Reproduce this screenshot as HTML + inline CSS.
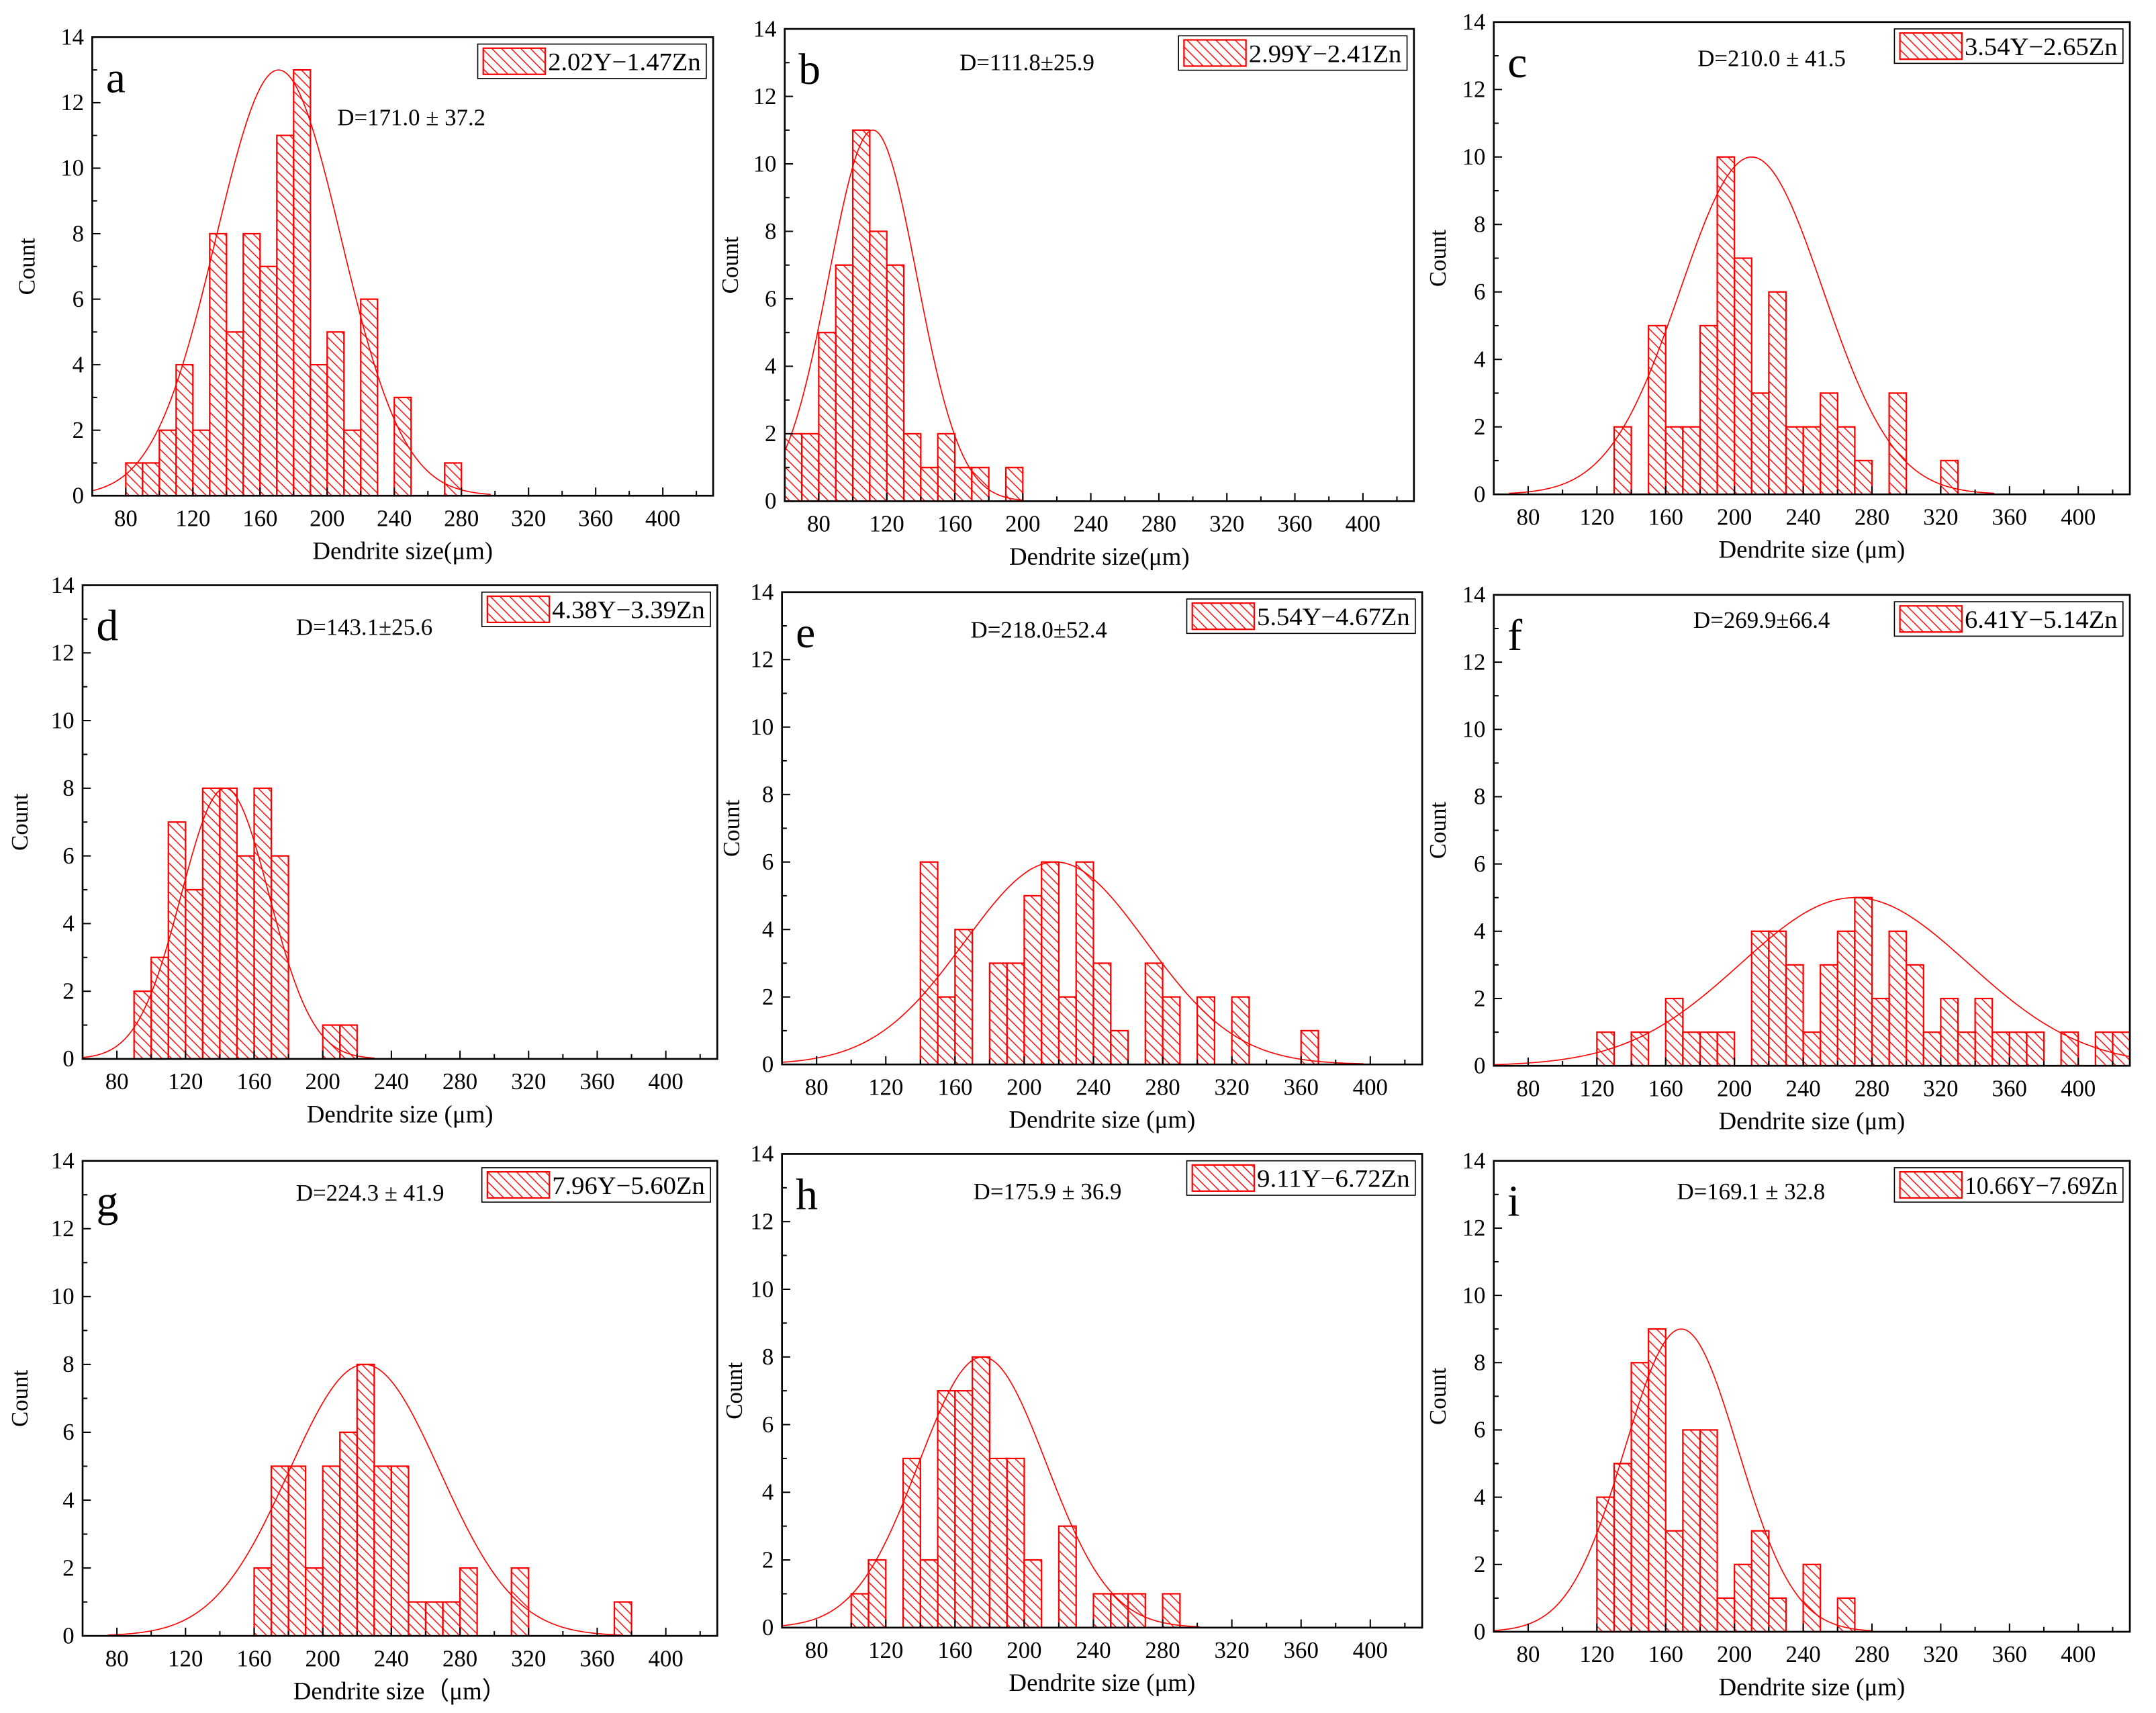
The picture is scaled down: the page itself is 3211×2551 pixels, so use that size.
<!DOCTYPE html>
<html><head><meta charset="utf-8"><style>
html,body{margin:0;padding:0;background:#fff;}
svg{display:block;font-family:"Liberation Serif",serif;}
</style></head><body>
<svg id="fig" width="3211" height="2551" viewBox="0 0 1566 1244" preserveAspectRatio="none" xmlns="http://www.w3.org/2000/svg">
<defs>
<pattern id="hatch" patternUnits="userSpaceOnUse" width="7" height="7">
<path d="M0,0 L7,7 M-1,6 L1,8 M6,-1 L8,1" stroke="#ff0000" stroke-width="0.7" fill="none"/>
</pattern>
</defs>
</svg>
<script>
// ---- data (bin width 10 µm) ----
const panelIds   = ["a","b","c","d","e","f","g","h","i"];
const alloyNames = ["2.02Y\u22121.47Zn","2.99Y\u22122.41Zn","3.54Y\u22122.65Zn","4.38Y\u22123.39Zn","5.54Y\u22124.67Zn","6.41Y\u22125.14Zn","7.96Y\u22125.60Zn","9.11Y\u22126.72Zn","10.66Y\u22127.69Zn"];
const meanLabels = ["D=171.0 \u00b1 37.2","D=111.8\u00b125.9","D=210.0 \u00b1 41.5","D=143.1\u00b125.6","D=218.0\u00b152.4","D=269.9\u00b166.4","D=224.3 \u00b1 41.9","D=175.9 \u00b1 36.9","D=169.1 \u00b1 32.8"];
const binStarts  = [80,60,130,90,140,120,160,100,120];
const countsA = [1,1,2,4,2,8,5,8,7,11,13,4,5,2,6,0,3,0,0,1];
const countsB = [2,2,5,7,11,8,7,2,1,2,1,1,0,1];
const countsC = [2,0,5,2,2,5,10,7,3,6,2,2,3,2,1,0,3,0,0,1];
const countsD = [2,3,7,5,8,8,6,8,6,0,0,1,1];
const countsE = [6,2,4,0,3,3,5,6,2,6,3,1,0,3,2,0,2,0,2,0,0,0,1];
const countsF = [1,0,1,0,2,1,1,1,0,4,4,3,1,3,4,5,2,4,3,1,2,1,2,1,1,1,0,1,0,1,1];
const countsG = [2,5,5,2,5,6,8,5,5,1,1,1,2,0,0,2,0,0,0,0,0,1];
const countsH = [1,2,0,5,2,7,7,8,5,5,2,0,3,0,1,1,1,0,1];
const countsI = [4,5,8,9,3,6,6,1,2,3,1,0,2,0,1];
const fitMeans = [171.0,111.8,210.0,143.1,218.0,269.9,224.3,175.9,169.1];
const fitSDs   = [37.2,25.9,41.5,25.6,52.4,66.4,44.0,36.9,32.8];
const fitPeaks = [13,11,10,8,6,5,8,8,9];
const xTicks = [80,120,160,200,240,280,320,360,400];
const yTicks = [0,2,4,6,8,10,12,14];
const xTitles = ["Dendrite size(\u03bcm)","Dendrite size(\u03bcm)","Dendrite size (\u03bcm)","Dendrite size (\u03bcm)","Dendrite size (\u03bcm)","Dendrite size (\u03bcm)","Dendrite size\uff08\u03bcm\uff09","Dendrite size (\u03bcm)","Dendrite size (\u03bcm)"];
const allCounts = [countsA,countsB,countsC,countsD,countsE,countsF,countsG,countsH,countsI];

// ---- layout ----
const boxes = [[67,518,27,360],[570,1027,21,364],[1085,1547,16,359],[60,521,425,769],[568,1033,430,773],[1085,1547,432,774],[60,521,843,1188],[568,1033,838,1182],[1085,1547,843,1185]];
const dPos = [[245,91],[697,51],[1233,48],[215,461],[705,463],[1230,456],[215,872],[707,871],[1218,871]];
const countOff = [42,34,35,40,31,35,40,29,35];
const XMIN=60, XMAX=430, YMAX=14;
const NS="http://www.w3.org/2000/svg";
const svg=document.getElementById("fig");
function mk(tag,attrs,parent){const e=document.createElementNS(NS,tag);for(const k in attrs)e.setAttribute(k,attrs[k]);(parent||svg).appendChild(e);return e;}

panelIds.forEach((id,p)=>{
  const [L,R,T,B]=boxes[p];
  const sx=v=>L+(v-XMIN)/(XMAX-XMIN)*(R-L);
  const sy=v=>B-v/YMAX*(B-T);
  const g=mk("g",{});
  
  
  const counts=allCounts[p];
  counts.forEach((c,k)=>{
    if(c<=0)return;
    const x0=binStarts[p]+k*10;
    const r=mk("rect",{x:sx(x0),y:sy(c),width:sx(x0+10)-sx(x0),height:sy(0)-sy(c),fill:"url(#hatch)",stroke:"#ff0000","stroke-width":1.1},g);
    
    
  });
  const m=fitMeans[p],s=fitSDs[p],pk=fitPeaks[p];
  const a0=Math.max(XMIN,m-3.4*s),a1=Math.min(XMAX,m+3.4*s);
  let d="";
  for(let i=0;i<=200;i++){const x=a0+(a1-a0)*i/200;const y=pk*Math.exp(-((x-m)**2)/(2*s*s));d+=(i?"L":"M")+sx(x).toFixed(2)+","+sy(y).toFixed(2);}
  const cv=mk("path",{d:d,fill:"none",stroke:"#ff0000","stroke-width":0.8},g);
  
  
  const fr=mk("rect",{x:L,y:T,width:R-L,height:B-T,fill:"none",stroke:"#000","stroke-width":1.3},g);
  
  
  for(let v=80;v<=420;v+=20){
    const major=(v%40===0);
    mk("line",{x1:sx(v),x2:sx(v),y1:B,y2:B-(major?6:3.5),stroke:"#000","stroke-width":1},g);
  }
  xTicks.forEach(v=>{
    const t=mk("text",{x:sx(v),y:B+22,"font-size":17,"text-anchor":"middle"},g);
    t.textContent=v;
    
    
  });
  for(let v=0;v<=14;v++){
    const major=(v%2===0);
    mk("line",{x1:L,x2:L+(major?6:3.5),y1:sy(v),y2:sy(v),stroke:"#000","stroke-width":1},g);
  }
  yTicks.forEach(v=>{
    const t=mk("text",{x:L-6,y:sy(v)+5.5,"font-size":17,"text-anchor":"end"},g);
    t.textContent=v;
    
    
  });
  const yt=mk("text",{x:0,y:0,"font-size":17,"text-anchor":"middle",transform:`translate(${L-countOff[p]},${(T+B)/2}) rotate(-90)`},g);
  yt.textContent="Count";
  
  
  const xt=mk("text",{x:(L+R)/2,y:B+46,"font-size":18,"text-anchor":"middle"},g);
  xt.textContent=xTitles[p];
  
  
  const lt=mk("text",{x:L+10,y:T+40,"font-size":32},g);
  lt.textContent=id;
  
  
  const dl=mk("text",{x:dPos[p][0],y:dPos[p][1],"font-size":17},g);
  dl.textContent=meanLabels[p];
  
  
  const lw=alloyNames[p].length>13?175:166, lx=R-lw-5, ly=T+5;
  const lg=mk("g",{},g);
  
  
  mk("rect",{x:lx,y:ly,width:lw,height:25,fill:"#fff",stroke:"#000","stroke-width":0.8},lg);
  mk("rect",{x:lx+4,y:ly+3,width:45,height:19,fill:"url(#hatch)",stroke:"#ff0000","stroke-width":1.1},lg);
  const ltx=mk("text",{x:lx+51,y:ly+19,"font-size":18,textLength:lw-55,lengthAdjust:"spacingAndGlyphs"},lg);
  ltx.textContent=alloyNames[p];
});
</script>
</body></html>
